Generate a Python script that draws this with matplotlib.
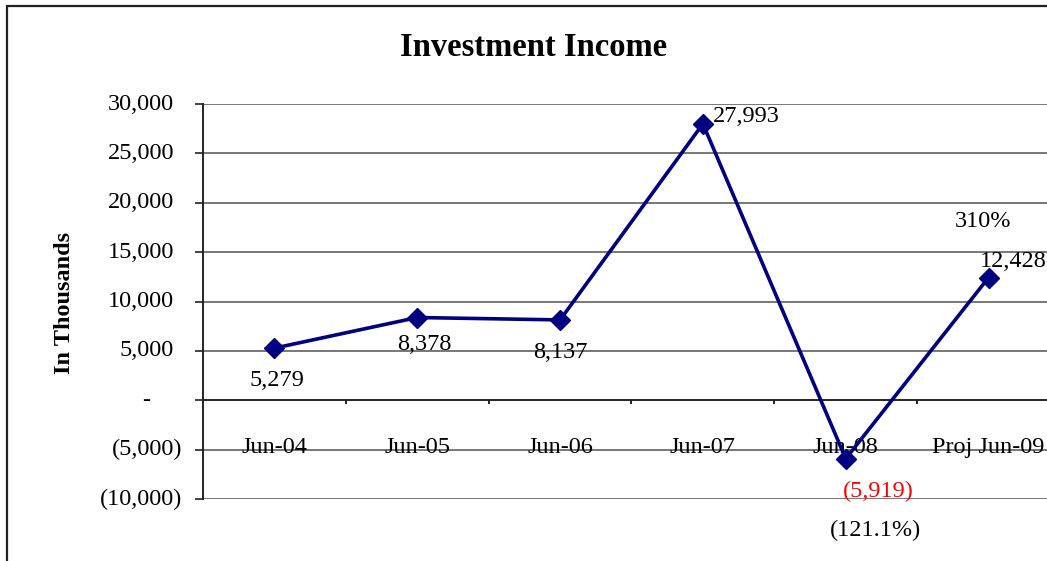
import matplotlib
matplotlib.use("Agg")
import matplotlib.pyplot as plt
import matplotlib.transforms as mtransforms
from matplotlib.patches import Rectangle

# datos del grafico
periodos = ["Jun-04", "Jun-05", "Jun-06", "Jun-07", "Jun-08", "Proj Jun-09"]
ingresos = [5279, 8378, 8137, 27993, -5919, 12428]
etiquetas = ["5,279", "8,378", "8,137", "27,993", "(5,919)", "12,428"]
colores_etiq = ["black", "black", "black", "black", "red", "black"]
variaciones = {4: "(121.1%)", 5: "310%"}

y_ticks = [30000, 25000, 20000, 15000, 10000, 5000, 0, -5000, -10000]
y_labels = ["30,000", "25,000", "20,000", "15,000", "10,000", "5,000", "-",
            "(5,000)", "(10,000)"]

# desplazamientos de cada etiqueta (en pixeles) respecto a su punto
offs_etiq = [(3, -32), (7, -27), (0, -33), (10, 7), (33, -33), (-9, 16)]
ha_etiq = ["center", "center", "center", "left", "center", "left"]
offs_var = {4: (30, -72), 5: (-6, 56)}

plt.rcParams['font.family'] = ['Liberation Serif', 'DejaVu Serif']
FS = 17.5

W, H = 1047, 561
fig = plt.figure(figsize=(W / 100, H / 100), dpi=100)
fig.patch.set_facecolor('white')

# marco exterior
fig.patches.append(Rectangle((7 / W, -0.2), 1.5, 1.2 - 6 / H,
                             transform=fig.transFigure, fill=False,
                             edgecolor='#222222', linewidth=1.6))

ax = fig.add_axes([203 / W, 1 - 499 / H, 857 / W, 395 / H])
x = list(range(len(periodos)))

ax.set_xlim(-0.5, 5.5)
ax.set_ylim(-10000, 30000)

# grilla horizontal
for v in y_ticks:
    if v != 0:
        ax.axhline(v, color='#777777', linewidth=1.4, zorder=1)
ax.axhline(0, color='black', linewidth=1.2, zorder=2)

ax.plot(x, ingresos, color='#000080', linewidth=2.6, marker='D',
        markersize=10.5, markerfacecolor='#000080', markeredgecolor='#000080',
        zorder=4, clip_on=False)

for s in ['top', 'right', 'bottom']:
    ax.spines[s].set_visible(False)
ax.spines['left'].set_color('#222222')
ax.spines['left'].set_linewidth(1.4)

# marcas del eje y
ax.set_yticks(y_ticks)
ax.set_yticklabels([])
ax.tick_params(axis='y', direction='out', length=6, width=1.2, color='#222222')
ax.set_xticks([])

px = 72 / 100
blend = mtransforms.blended_transform_factory(ax.transAxes, ax.transData)
for v, lab in zip(y_ticks, y_labels):
    if lab == "-":
        dx, ha = -57, 'center'
    elif lab.startswith("("):
        dx, ha = -21, 'right'
    else:
        dx, ha = -29, 'right'
    ax.annotate(lab, (0, v), xycoords=blend, xytext=(dx * px, 0),
                textcoords='offset points', ha=ha, va='center', fontsize=FS)

# marcas entre categorias sobre la linea del cero
for b in [i + 0.5 for i in range(len(periodos))]:
    ax.plot([b, b], [0, 0], marker=[(0, 0), (0, -1)], markersize=6,
            color='#222222', markeredgewidth=1.2, clip_on=False, zorder=2)

# etiquetas de categorias
for i, p in enumerate(periodos):
    ax.annotate(p, (i, 0), xytext=(0, -53 * px), textcoords='offset points',
                ha='center', va='baseline', fontsize=FS, zorder=3,
                annotation_clip=False)

# valores
for i, (v, lab) in enumerate(zip(ingresos, etiquetas)):
    dx, dy = offs_etiq[i]
    ax.annotate(lab, (i, v), xytext=(dx * px, dy * px),
                textcoords='offset points', ha=ha_etiq[i], va='center',
                fontsize=FS, color=colores_etiq[i], zorder=5,
                annotation_clip=False)

for i, lab in variaciones.items():
    dx, dy = offs_var[i]
    ax.annotate(lab, (i, ingresos[i]), xytext=(dx * px, dy * px),
                textcoords='offset points', ha='center', va='center',
                fontsize=FS, annotation_clip=False)

fig.text(534 / W, 1 - 47 / H, "Investment Income", ha='center', va='center',
         fontsize=23.5, fontweight='bold')
fig.text(64 / W, 1 - 303 / H, "In Thousands", ha='center', va='center',
         rotation=90, fontsize=17.5, fontweight='bold')

fig.savefig("out.png", dpi=100)
